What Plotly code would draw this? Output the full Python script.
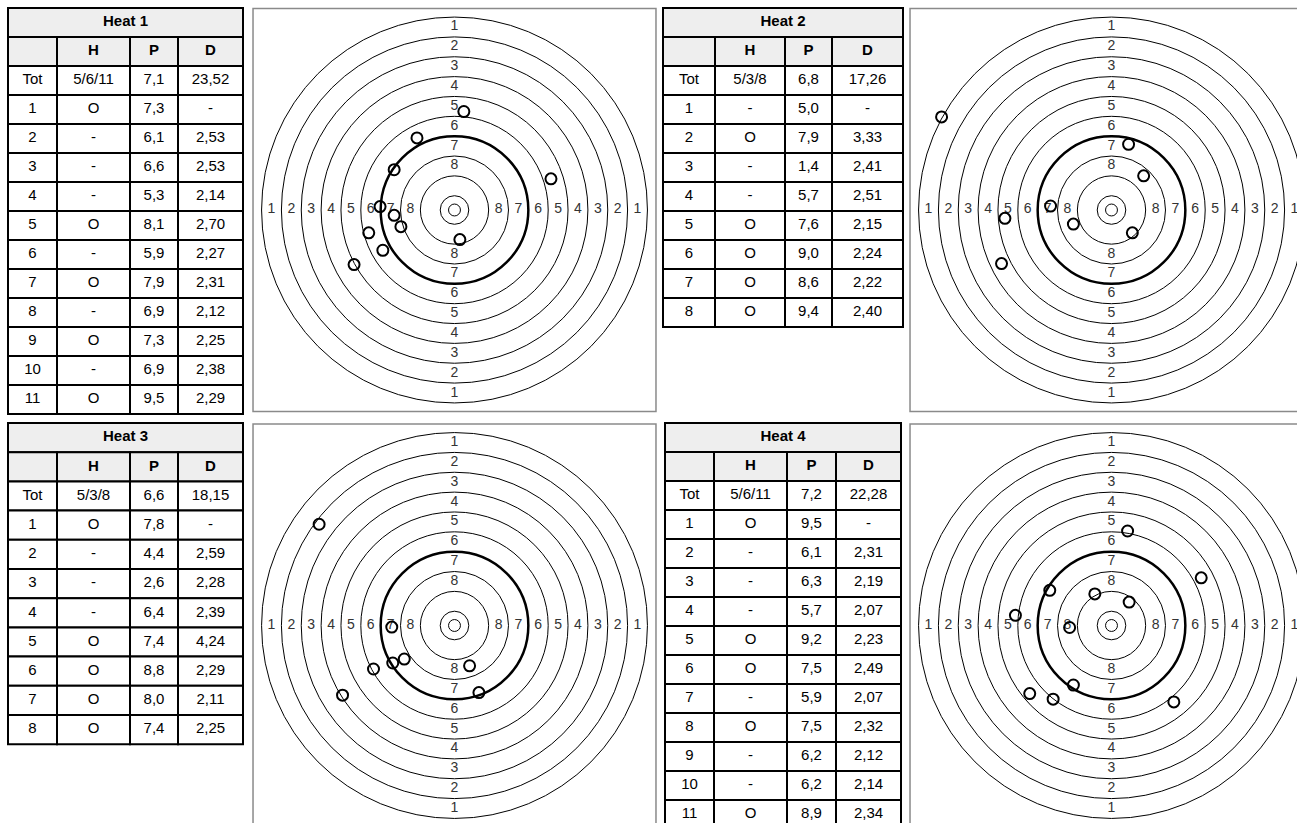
import plotly.graph_objects as go

W, H = 1297, 823

# ---------------- data ----------------
heat_titles = ["Heat 1", "Heat 2", "Heat 3", "Heat 4"]
col_headers = ["", "H", "P", "D"]

h1_shot = ["Tot", "1", "2", "3", "4", "5", "6", "7", "8", "9", "10", "11"]
h1_hit = ["5/6/11", "O", "-", "-", "-", "O", "-", "O", "-", "O", "-", "O"]
h1_pts = ["7,1", "7,3", "6,1", "6,6", "5,3", "8,1", "5,9", "7,9", "6,9", "7,3", "6,9", "9,5"]
h1_dst = ["23,52", "-", "2,53", "2,53", "2,14", "2,70", "2,27", "2,31", "2,12", "2,25", "2,38", "2,29"]
h1_x = [0.47, -1.89, -3.04, 4.86, -3.75, -3.04, -2.70, -4.32, -3.61, -5.06, 0.27]
h1_y = [4.96, 3.63, 2.03, 1.57, 0.17, -0.27, -0.84, -1.15, -2.03, -2.75, -1.49]

h2_shot = ["Tot", "1", "2", "3", "4", "5", "6", "7", "8"]
h2_hit = ["5/3/8", "-", "O", "-", "-", "O", "O", "O", "O"]
h2_pts = ["6,8", "5,0", "7,9", "1,4", "5,7", "7,6", "9,0", "8,6", "9,4"]
h2_dst = ["17,26", "-", "3,33", "2,41", "2,51", "2,15", "2,24", "2,22", "2,40"]
h2_x = [-8.56, 0.86, 1.62, -3.07, -5.37, -1.92, 1.05, -5.54]
h2_y = [4.69, 3.31, 1.72, 0.20, -0.42, -0.71, -1.15, -2.70]

h3_shot = ["Tot", "1", "2", "3", "4", "5", "6", "7", "8"]
h3_hit = ["5/3/8", "O", "-", "-", "-", "O", "O", "O", "O"]
h3_pts = ["6,6", "7,8", "4,4", "2,6", "6,4", "7,4", "8,8", "8,0", "7,4"]
h3_dst = ["18,15", "-", "2,59", "2,28", "2,39", "4,24", "2,29", "2,11", "2,25"]
h3_x = [-6.82, -3.16, -2.53, -3.11, -4.08, 0.76, 1.23, -5.64]
h3_y = [5.10, -0.08, -1.69, -1.89, -2.19, -2.03, -3.38, -3.51]

h4_shot = ["Tot", "1", "2", "3", "4", "5", "6", "7", "8", "9", "10", "11"]
h4_hit = ["5/6/11", "O", "-", "-", "-", "O", "O", "-", "O", "-", "-", "O"]
h4_pts = ["7,2", "9,5", "6,1", "6,3", "5,7", "9,2", "7,5", "5,9", "7,5", "6,2", "6,2", "8,9"]
h4_dst = ["22,28", "-", "2,31", "2,19", "2,07", "2,23", "2,49", "2,07", "2,32", "2,12", "2,14", "2,34"]
h4_x = [0.81, 4.52, -3.11, -0.84, 0.89, -4.84, -2.11, -1.92, -4.12, -2.94, 3.14]
h4_y = [4.76, 2.40, 1.77, 1.59, 1.18, 0.51, -0.10, -3.00, -3.43, -3.71, -3.85]

ring_scores = [1, 2, 3, 4, 5, 6, 7, 8]

# ---------------- layout helpers ----------------
S = 19.85          # px per target unit
BOX = 10.15        # half size of target frame (units)
R10 = 0.72         # outer radius of the 10 ring (units)
RIN = 0.30         # inner dot circle
FONT = "Liberation Sans, Arial, sans-serif"


def fx(px):
    return max(0.0, min(1.0, px / W))


def fy(py):
    return max(0.0, min(1.0, 1 - py / H))


heats = [
    dict(title=heat_titles[0], cols=[h1_shot, h1_hit, h1_pts, h1_dst], xs=h1_x, ys=h1_y,
         tx=(8, 243), ttop=8, rowh=29, cw=[49, 73, 48, 65], c=(454.5, 210)),
    dict(title=heat_titles[1], cols=[h2_shot, h2_hit, h2_pts, h2_dst], xs=h2_x, ys=h2_y,
         tx=(663, 903), ttop=8, rowh=29, cw=[52, 70, 47, 71], c=(1111.5, 210)),
    dict(title=heat_titles[2], cols=[h3_shot, h3_hit, h3_pts, h3_dst], xs=h3_x, ys=h3_y,
         tx=(8, 243), ttop=423, rowh=29.2, cw=[49, 73, 48, 65], c=(454.5, 625.5)),
    dict(title=heat_titles[3], cols=[h4_shot, h4_hit, h4_pts, h4_dst], xs=h4_x, ys=h4_y,
         tx=(665, 901), ttop=423, rowh=29, cw=[49, 73, 49, 65], c=(1111.5, 625.5)),
]

fig = go.Figure()
shapes = []
axes = {}


def axnames(k):
    return (("xaxis", "yaxis", "x", "y") if k == 1
            else (f"xaxis{k}", f"yaxis{k}", f"x{k}", f"y{k}"))


for i, hd in enumerate(heats):
    # ---------- table ----------
    k = 5 + i
    xa, ya, xr, yr = axnames(k)
    x0, x1 = hd["tx"]
    top = hd["ttop"]
    rh = hd["rowh"]
    cw = hd["cw"]
    edges = [0]
    for w_ in cw:
        edges.append(edges[-1] + w_)
    tw = edges[-1]
    nbody = len(hd["cols"][0])
    th = rh * (nbody + 2)
    pad = 2
    dl, dr = x0 - pad, min(W, x0 + tw + pad)
    dt, db = top - pad, min(H, top + th + pad)
    axes[xa] = dict(domain=[fx(dl), fx(dr)], range=[dl - x0, dr - x0], visible=False,
                    anchor=yr, fixedrange=True)
    axes[ya] = dict(domain=[fy(db), fy(dt)], range=[db - top, dt - top], visible=False,
                    anchor=xr, fixedrange=True)
    cell_line = dict(color="black", width=2)
    # title row
    shapes.append(dict(type="rect", xref=xr, yref=yr, x0=0, x1=tw, y0=0, y1=rh,
                       fillcolor="#eeeeee", line=cell_line, layer="below"))
    tx_, ty_, tt_ = [tw / 2], [rh / 2], ["<b>" + hd["title"] + "</b>"]
    # header row
    for j, hname in enumerate(col_headers):
        shapes.append(dict(type="rect", xref=xr, yref=yr, x0=edges[j], x1=edges[j + 1],
                           y0=rh, y1=2 * rh, fillcolor="#eeeeee", line=cell_line,
                           layer="below"))
        tx_.append((edges[j] + edges[j + 1]) / 2)
        ty_.append(1.5 * rh)
        tt_.append("<b>" + hname + "</b>" if hname else "")
    # body
    for j, col in enumerate(hd["cols"]):
        for r, val in enumerate(col):
            shapes.append(dict(type="rect", xref=xr, yref=yr, x0=edges[j], x1=edges[j + 1],
                               y0=(2 + r) * rh, y1=(3 + r) * rh, fillcolor="white",
                               line=cell_line, layer="below"))
            tx_.append((edges[j] + edges[j + 1]) / 2)
            ty_.append((2.5 + r) * rh)
            tt_.append(val)
    fig.add_trace(go.Scatter(x=tx_, y=ty_, text=tt_, mode="text", xaxis=xr, yaxis=yr,
                             textposition="middle center",
                             textfont=dict(family=FONT, size=15, color="black"),
                             hoverinfo="skip", showlegend=False))

    # ---------- target ----------
    k = i + 1
    xa, ya, xr, yr = axnames(k)
    cx, cy = hd["c"]
    bl, br = cx - BOX * S, cx + BOX * S
    bt, bb = cy - BOX * S, cy + BOX * S
    dl, dr = max(0, bl - 3), min(W, br + 3)
    dt, db = max(0, bt - 3), min(H, bb + 3)
    axes[xa] = dict(domain=[fx(dl), fx(dr)], range=[(dl - cx) / S, (dr - cx) / S],
                    visible=False, anchor=yr, fixedrange=True)
    axes[ya] = dict(domain=[fy(db), fy(dt)], range=[(cy - db) / S, (cy - dt) / S],
                    visible=False, anchor=xr, fixedrange=True)

    shapes.append(dict(type="rect", xref=xr, yref=yr, x0=-BOX, x1=BOX, y0=-BOX, y1=BOX,
                       line=dict(color="#8a8a8a", width=1.5), layer="below"))
    radii = [R10 + (10 - s) for s in ring_scores] + [R10 + 1, R10, RIN]
    for r in radii:
        thick = abs(r - (R10 + 3)) < 1e-6
        shapes.append(dict(type="circle", xref=xr, yref=yr, x0=-r, x1=r, y0=-r, y1=r,
                           line=dict(color="black", width=2.5 if thick else 1),
                           layer="below"))

    mids = [R10 + 9.5 - s for s in ring_scores]
    lx = [-m for m in mids] + mids + [0] * 8 + [0] * 8
    ly = [0] * 8 + [0] * 8 + mids + [-m for m in mids]
    lt = [str(s) for s in ring_scores] * 4
    fig.add_trace(go.Scatter(x=lx, y=ly, text=lt, mode="text", xaxis=xr, yaxis=yr,
                             textfont=dict(family=FONT, size=14, color="#333333"),
                             hoverinfo="skip", showlegend=False))
    fig.add_trace(go.Scatter(x=hd["xs"], y=hd["ys"], mode="markers", xaxis=xr, yaxis=yr,
                             marker=dict(symbol="circle-open", size=11, color="black",
                                         line=dict(width=2, color="black")),
                             showlegend=False, hoverinfo="skip"))

fig.update_layout(width=W, height=H, autosize=False, margin=dict(l=0, r=0, t=0, b=0),
                  paper_bgcolor="white", plot_bgcolor="rgba(0,0,0,0)", showlegend=False,
                  shapes=shapes, **axes)

fig.write_html("out.html", config={"displayModeBar": False},
               post_script="document.body.style.margin='0';document.body.style.overflow='hidden';")
